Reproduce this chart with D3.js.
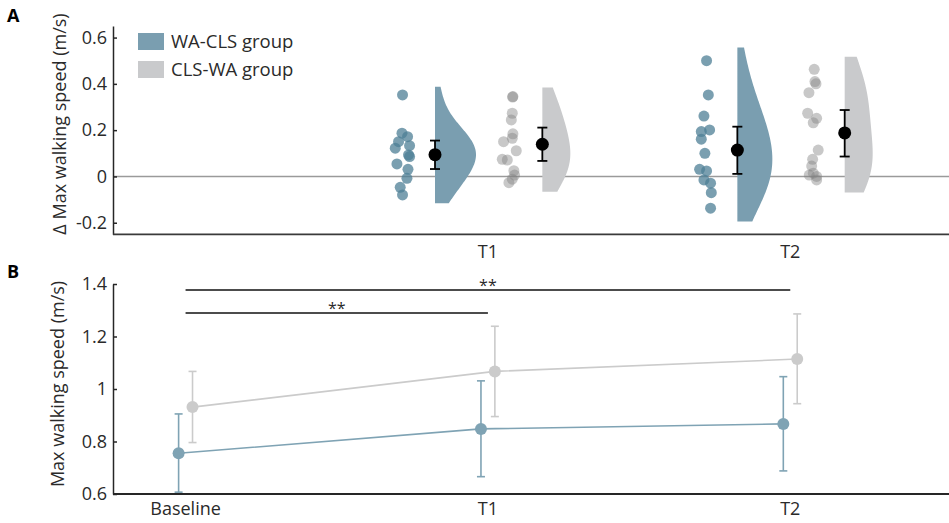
<!DOCTYPE html>
<html><head><meta charset="utf-8">
<script src="https://cdn.jsdelivr.net/npm/d3@7"></script>
<style>body{margin:0;background:#fff} svg{display:block;font-family:"Open Sans",sans-serif}</style>
</head><body><svg id="c" width="949" height="523"></svg>
<script>
// ---------- DATA ----------
const groups = ["WA-CLS group", "CLS-WA group"];
const timepoints = ["Baseline", "T1", "T2"];
const deltaTimes = ["T1", "T2"];

// Panel A: per-participant change in max walking speed (m/s) and jitter (-1..1)
const waclsDeltaT1 = [0.352, 0.187, 0.172, 0.150, 0.133, 0.122, 0.093, 0.086, 0.054, 0.031, -0.008, -0.047, -0.080];
const waclsJitterT1 = [-0.09, -0.16, 0.54, -0.59, 0.79, -1, 0.66, 0.79, -0.79, 0.59, 0.46, -0.38, -0.09];
const clswaDeltaT1 = [0.345, 0.343, 0.273, 0.244, 0.184, 0.165, 0.150, 0.111, 0.074, 0.071, 0.025, 0.006, -0.012, -0.027];
const clswaJitterT1 = [0.29, 0.25, 0.21, 0.09, 0.29, 0.21, -0.88, 0.71, -1.04, -0.41, 0.41, 0.5, 0.21, -0.21];
const waclsDeltaT2 = [0.500, 0.352, 0.261, 0.201, 0.194, 0.161, 0.100, 0.031, 0.024, -0.015, -0.029, -0.070, -0.137];
const waclsJitterT2 = [0.12, 0.34, -0.21, 0.5, -0.54, -0.54, -0.09, -0.75, 0.12, -0.21, 0.62, 0.71, 0.62];
const clswaDeltaT2 = [0.463, 0.410, 0.400, 0.362, 0.273, 0.251, 0.232, 0.114, 0.074, 0.045, 0.014, 0.006, 0.000, -0.015];
const clswaJitterT2 = [0.16, 0.25, 0.38, -0.5, -0.66, 0.46, 0.04, 0.66, -0.04, -0.16, 0.04, -0.46, 0.46, 0.46];

// Panel A: group means and 95% CI of the change
const waclsDeltaMean = [0.094, 0.114];
const waclsDeltaLo = [0.032, 0.011];
const waclsDeltaHi = [0.155, 0.215];
const clswaDeltaMean = [0.139, 0.188];
const clswaDeltaLo = [0.067, 0.086];
const clswaDeltaHi = [0.211, 0.287];

// Panel B: max walking speed (m/s), mean and error limits
const waclsSpeed = [0.755, 0.848, 0.867];
const waclsSpeedLo = [0.607, 0.666, 0.688];
const waclsSpeedHi = [0.905, 1.031, 1.047];
const clswaSpeed = [0.931, 1.067, 1.114];
const clswaSpeedLo = [0.796, 0.895, 0.944];
const clswaSpeedHi = [1.067, 1.239, 1.286];

// significance brackets (timepoint index pairs)
const sigFrom = [0, 0];
const sigTo = [2, 1];
const sigLabel = ["**", "**"];

const yTicksA = [-0.2, 0, 0.2, 0.4, 0.6];
const yTicksB = [0.6, 0.8, 1, 1.2, 1.4];

// ---------- STYLE ----------
const blueFill = "#7a9eb0", grayFill = "#c9cacc";
const blueDot = "#4d7f95", grayDot = "#818181";
const blueLine = "#7fa3b4", grayLine = "#cbcbcb";
const axisCol = "#262626";
const txtCol = "#2a2a2a";
const fs = 18;

const svg = d3.select("#c");
const fmt = d => String(+(+d).toFixed(1));

// ---------- PANEL A ----------
const xA = d3.scaleLinear().domain([-0.24, 2.525]).range([113, 949]);
const yA = d3.scaleLinear().domain([-0.25, 0.65]).range([234.3, 26]);

const gA = svg.append("g");
gA.append("line").attr("x1", xA.range()[0]).attr("x2", xA.range()[1])
  .attr("y1", yA(0)).attr("y2", yA(0)).attr("stroke", "#9a9a9a").attr("stroke-width", 1.5);

const offDots = [-0.28, 0.075], offMean = [-0.175, 0.18];
const sets = [
  {g:0, t:1, vals:waclsDeltaT1, jit:waclsJitterT1},
  {g:1, t:1, vals:clswaDeltaT1, jit:clswaJitterT1},
  {g:0, t:2, vals:waclsDeltaT2, jit:waclsJitterT2},
  {g:1, t:2, vals:clswaDeltaT2, jit:clswaJitterT2}
];
function kde(values){
  const n = values.length, sd = d3.deviation(values);
  const hs = 1.06 * sd * Math.pow(n, -0.2);
  const h = hs * 1.3;
  const lo = d3.min(values) - hs/2, hi = d3.max(values) + hs/2;
  return d3.range(0, 121).map(i => {
    const y = lo + (hi - lo) * i / 120;
    return [y, d3.mean(values, v => Math.exp(-0.5 * ((y - v)/h) ** 2)) / (h * Math.sqrt(2*Math.PI))];
  });
}
const dens = sets.map(s => kde(s.vals));
const maxWidth = [41, 28, 35, 28];
sets.forEach((s, i) => {
  const d = dens[i];
  const m = d3.max(d, p => p[1]);
  const x0 = xA(s.t + offMean[s.g]);
  const wS = d3.scaleLinear().domain([0, m]).range([0, maxWidth[i]]);
  const area = d3.area().curve(d3.curveBasis)
    .y(p => yA(p[0])).x0(x0).x1(p => x0 + wS(p[1]));
  gA.append("path").datum(d).attr("d", area).attr("fill", s.g === 0 ? blueFill : grayFill);
  gA.selectAll(null).data(s.vals).join("circle")
    .attr("cx", (v, j) => xA(s.t + offDots[s.g]) + s.jit[j] * 8)
    .attr("cy", v => yA(v)).attr("r", 5.5)
    .attr("fill", s.g === 0 ? blueDot : grayDot)
    .attr("fill-opacity", s.g === 0 ? 0.75 : 0.44);
});
const meanSets = [
  {g:0, mean:waclsDeltaMean, lo:waclsDeltaLo, hi:waclsDeltaHi},
  {g:1, mean:clswaDeltaMean, lo:clswaDeltaLo, hi:clswaDeltaHi}
];
meanSets.forEach(ms => {
  ms.mean.forEach((v, k) => {
    const t = k + 1, x = xA(t + offMean[ms.g]);
    gA.append("line").attr("x1", x).attr("x2", x).attr("y1", yA(ms.lo[k])).attr("y2", yA(ms.hi[k]))
      .attr("stroke", "#000").attr("stroke-width", 1.8);
    [ms.lo[k], ms.hi[k]].forEach(e => gA.append("line").attr("x1", x-5).attr("x2", x+5)
      .attr("y1", yA(e)).attr("y2", yA(e)).attr("stroke", "#000").attr("stroke-width", 1.8));
    gA.append("circle").attr("cx", x).attr("cy", yA(v)).attr("r", 6.5).attr("fill", "#000");
  });
});
const axA = gA.append("g").attr("transform", `translate(${xA.range()[0]},0)`)
  .call(d3.axisLeft(yA).tickValues(yTicksA).tickFormat(fmt).tickSize(-4).tickSizeOuter(0).tickPadding(6));
axA.selectAll("text").attr("font-size", fs).attr("fill", txtCol).attr("font-family", "Open Sans");
axA.selectAll("line,path").attr("stroke", axisCol).attr("stroke-width", 1.5);
gA.append("line").attr("x1", xA.range()[0]).attr("x2", xA.range()[1])
  .attr("y1", yA.range()[0]).attr("y2", yA.range()[0]).attr("stroke", "#3a3a3a").attr("stroke-width", 1.8);
gA.selectAll(".xl").data(deltaTimes).join("text")
  .attr("x", (d, i) => xA(i + 1)).attr("y", 258).attr("text-anchor", "middle")
  .attr("font-size", fs).attr("fill", txtCol).text(d => d);
gA.append("text").attr("transform", "translate(66,124) rotate(-90)")
  .attr("text-anchor", "middle").attr("font-size", fs).attr("fill", txtCol).text("Δ Max walking speed (m/s)");
svg.append("text").attr("x", 7).attr("y", 22).attr("font-weight", "bold").attr("font-size", 18).text("A");

const leg = gA.append("g");
groups.forEach((gname, i) => {
  leg.append("rect").attr("x", 138).attr("y", 33 + i*28).attr("width", 26).attr("height", 17)
    .attr("fill", i === 0 ? blueFill : grayFill);
  leg.append("text").attr("x", 171).attr("y", 48 + i*28).attr("font-size", 18.5).attr("fill", txtCol).text(gname);
});

// ---------- PANEL B ----------
const xB = xA;
const yB = d3.scaleLinear().domain([0.6, 1.4]).range([494, 284]);
const gB = svg.append("g");
const offB = [-0.023, 0.023];
const lineSets = [
  {g:1, v:clswaSpeed, lo:clswaSpeedLo, hi:clswaSpeedHi, c:grayLine},
  {g:0, v:waclsSpeed, lo:waclsSpeedLo, hi:waclsSpeedHi, c:blueLine}
];
lineSets.forEach(ls => {
  const line = d3.line().x((v, i) => xB(i + offB[ls.g])).y(v => yB(v));
  gB.append("path").datum(ls.v).attr("d", line).attr("fill", "none").attr("stroke", ls.c).attr("stroke-width", 1.6);
  ls.v.forEach((v, i) => {
    const x = xB(i + offB[ls.g]);
    gB.append("line").attr("x1", x).attr("x2", x).attr("y1", yB(ls.lo[i])).attr("y2", yB(ls.hi[i]))
      .attr("stroke", ls.c).attr("stroke-width", 1.6);
    [ls.lo[i], ls.hi[i]].forEach(e => gB.append("line").attr("x1", x-4).attr("x2", x+4)
      .attr("y1", yB(e)).attr("y2", yB(e)).attr("stroke", ls.c).attr("stroke-width", 1.6));
    gB.append("circle").attr("cx", x).attr("cy", yB(v)).attr("r", 6).attr("fill", ls.c);
  });
});
sigFrom.forEach((f, i) => {
  const y = yB(1.4) + 6 + i * 23;
  gB.append("line").attr("x1", xB(f)).attr("x2", xB(sigTo[i])).attr("y1", y).attr("y2", y)
    .attr("stroke", "#111").attr("stroke-width", 1.5);
  gB.append("text").attr("x", (xB(f) + xB(sigTo[i])) / 2).attr("y", y + 1).attr("text-anchor", "middle")
    .attr("font-size", 16).attr("fill", txtCol).text(sigLabel[i]);
});
const axB = gB.append("g").attr("transform", `translate(${xB.range()[0]},0)`)
  .call(d3.axisLeft(yB).tickValues(yTicksB).tickFormat(fmt).tickSize(-4).tickSizeOuter(0).tickPadding(6));
axB.selectAll("text").attr("font-size", fs).attr("fill", txtCol).attr("font-family", "Open Sans");
axB.selectAll("line,path").attr("stroke", axisCol).attr("stroke-width", 1.5);
gB.append("line").attr("x1", xB.range()[0]).attr("x2", xB.range()[1])
  .attr("y1", yB.range()[0]).attr("y2", yB.range()[0]).attr("stroke", axisCol).attr("stroke-width", 1.8);
gB.selectAll(".xl").data(timepoints).join("text")
  .attr("x", (d, i) => xB(i)).attr("y", 515).attr("text-anchor", "middle")
  .attr("font-size", fs).attr("fill", txtCol).text(d => d);
gB.append("text").attr("transform", "translate(64,384) rotate(-90)")
  .attr("text-anchor", "middle").attr("font-size", fs).attr("fill", txtCol).text("Max walking speed (m/s)");
svg.append("text").attr("x", 7).attr("y", 278).attr("font-weight", "bold").attr("font-size", 18).text("B");
</script></body></html>
